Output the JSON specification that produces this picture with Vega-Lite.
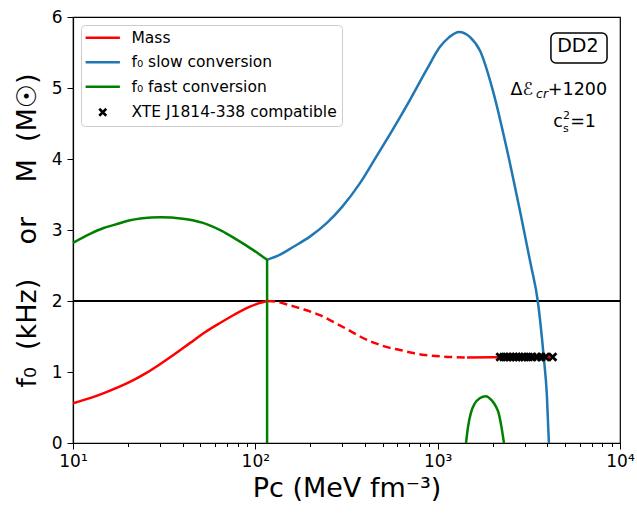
{
  "$schema": "https://vega.github.io/schema/vega-lite/v6.json",
  "width": 547,
  "height": 426,
  "autosize": "none",
  "padding": {"left": 73, "top": 17, "right": 17, "bottom": 72},
  "background": "white",
  "datasets": {
    "curves": [
      {"series": "Mass", "seg": "m1", "i": 1, "P": 10, "v": 0.56},
      {"series": "Mass", "seg": "m1", "i": 2, "P": 12.5, "v": 0.635},
      {"series": "Mass", "seg": "m1", "i": 3, "P": 15, "v": 0.71},
      {"series": "Mass", "seg": "m1", "i": 4, "P": 20.5, "v": 0.86},
      {"series": "Mass", "seg": "m1", "i": 5, "P": 25, "v": 0.98},
      {"series": "Mass", "seg": "m1", "i": 6, "P": 30, "v": 1.11},
      {"series": "Mass", "seg": "m1", "i": 7, "P": 36, "v": 1.25},
      {"series": "Mass", "seg": "m1", "i": 8, "P": 43.9, "v": 1.41},
      {"series": "Mass", "seg": "m1", "i": 9, "P": 53, "v": 1.56},
      {"series": "Mass", "seg": "m1", "i": 10, "P": 64, "v": 1.69},
      {"series": "Mass", "seg": "m1", "i": 11, "P": 77, "v": 1.81},
      {"series": "Mass", "seg": "m1", "i": 12, "P": 93.5, "v": 1.92},
      {"series": "Mass", "seg": "m1", "i": 13, "P": 105, "v": 1.97},
      {"series": "Mass", "seg": "m1", "i": 14, "P": 116, "v": 2.0},
      {"series": "Mass", "seg": "m2", "i": 1, "P": 116, "v": 2.0},
      {"series": "Mass", "seg": "m2", "i": 2, "P": 130, "v": 1.99},
      {"series": "Mass", "seg": "m2", "i": 3, "P": 150, "v": 1.95},
      {"series": "Mass", "seg": "m2", "i": 4, "P": 180, "v": 1.89},
      {"series": "Mass", "seg": "m2", "i": 5, "P": 226, "v": 1.8},
      {"series": "Mass", "seg": "m2", "i": 6, "P": 270, "v": 1.7},
      {"series": "Mass", "seg": "m2", "i": 7, "P": 320, "v": 1.6},
      {"series": "Mass", "seg": "m2", "i": 8, "P": 375, "v": 1.5},
      {"series": "Mass", "seg": "m2", "i": 9, "P": 450, "v": 1.41},
      {"series": "Mass", "seg": "m2", "i": 10, "P": 530, "v": 1.35},
      {"series": "Mass", "seg": "m2", "i": 11, "P": 622, "v": 1.31},
      {"series": "Mass", "seg": "m2", "i": 12, "P": 720, "v": 1.27},
      {"series": "Mass", "seg": "m2", "i": 13, "P": 850, "v": 1.24},
      {"series": "Mass", "seg": "m2", "i": 14, "P": 1030, "v": 1.22},
      {"series": "Mass", "seg": "m2", "i": 15, "P": 1250, "v": 1.21},
      {"series": "Mass", "seg": "m2", "i": 16, "P": 1450, "v": 1.205},
      {"series": "Mass", "seg": "m3", "i": 1, "P": 1450, "v": 1.205},
      {"series": "Mass", "seg": "m3", "i": 2, "P": 2000, "v": 1.207},
      {"series": "Mass", "seg": "m3", "i": 3, "P": 3000, "v": 1.21},
      {"series": "Mass", "seg": "m3", "i": 4, "P": 4140, "v": 1.21},
      {"series": "f₀ slow conversion", "seg": "s", "i": 1, "P": 116, "v": 2.58},
      {"series": "f₀ slow conversion", "seg": "s", "i": 2, "P": 135, "v": 2.645},
      {"series": "f₀ slow conversion", "seg": "s", "i": 3, "P": 161, "v": 2.76},
      {"series": "f₀ slow conversion", "seg": "s", "i": 4, "P": 200, "v": 2.91},
      {"series": "f₀ slow conversion", "seg": "s", "i": 5, "P": 247, "v": 3.1},
      {"series": "f₀ slow conversion", "seg": "s", "i": 6, "P": 300, "v": 3.33},
      {"series": "f₀ slow conversion", "seg": "s", "i": 7, "P": 375, "v": 3.66},
      {"series": "f₀ slow conversion", "seg": "s", "i": 8, "P": 460, "v": 4.03},
      {"series": "f₀ slow conversion", "seg": "s", "i": 9, "P": 569, "v": 4.42},
      {"series": "f₀ slow conversion", "seg": "s", "i": 10, "P": 700, "v": 4.82},
      {"series": "f₀ slow conversion", "seg": "s", "i": 11, "P": 875, "v": 5.27},
      {"series": "f₀ slow conversion", "seg": "s", "i": 12, "P": 1030, "v": 5.58},
      {"series": "f₀ slow conversion", "seg": "s", "i": 13, "P": 1150, "v": 5.71},
      {"series": "f₀ slow conversion", "seg": "s", "i": 14, "P": 1310, "v": 5.79},
      {"series": "f₀ slow conversion", "seg": "s", "i": 15, "P": 1500, "v": 5.72},
      {"series": "f₀ slow conversion", "seg": "s", "i": 16, "P": 1710, "v": 5.52},
      {"series": "f₀ slow conversion", "seg": "s", "i": 17, "P": 2015, "v": 4.95},
      {"series": "f₀ slow conversion", "seg": "s", "i": 18, "P": 2400, "v": 4.13},
      {"series": "f₀ slow conversion", "seg": "s", "i": 19, "P": 2858, "v": 3.21},
      {"series": "f₀ slow conversion", "seg": "s", "i": 20, "P": 3243, "v": 2.51},
      {"series": "f₀ slow conversion", "seg": "s", "i": 21, "P": 3540, "v": 2.0},
      {"series": "f₀ slow conversion", "seg": "s", "i": 22, "P": 3820, "v": 1.2},
      {"series": "f₀ slow conversion", "seg": "s", "i": 23, "P": 3970, "v": 0.68},
      {"series": "f₀ slow conversion", "seg": "s", "i": 24, "P": 4074, "v": 0.0},
      {"series": "f₀ fast conversion", "seg": "g1", "i": 1, "P": 10, "v": 2.82},
      {"series": "f₀ fast conversion", "seg": "g1", "i": 2, "P": 12.5, "v": 2.95},
      {"series": "f₀ fast conversion", "seg": "g1", "i": 3, "P": 14.6, "v": 3.025},
      {"series": "f₀ fast conversion", "seg": "g1", "i": 4, "P": 17, "v": 3.075},
      {"series": "f₀ fast conversion", "seg": "g1", "i": 5, "P": 20, "v": 3.13},
      {"series": "f₀ fast conversion", "seg": "g1", "i": 6, "P": 24, "v": 3.165},
      {"series": "f₀ fast conversion", "seg": "g1", "i": 7, "P": 30, "v": 3.18},
      {"series": "f₀ fast conversion", "seg": "g1", "i": 8, "P": 40, "v": 3.16},
      {"series": "f₀ fast conversion", "seg": "g1", "i": 9, "P": 51.7, "v": 3.10},
      {"series": "f₀ fast conversion", "seg": "g1", "i": 10, "P": 65, "v": 2.99},
      {"series": "f₀ fast conversion", "seg": "g1", "i": 11, "P": 79.5, "v": 2.86},
      {"series": "f₀ fast conversion", "seg": "g1", "i": 12, "P": 97, "v": 2.72},
      {"series": "f₀ fast conversion", "seg": "g1", "i": 13, "P": 116, "v": 2.58},
      {"series": "f₀ fast conversion", "seg": "gv", "i": 1, "P": 116, "v": 2.58},
      {"series": "f₀ fast conversion", "seg": "gv", "i": 2, "P": 116, "v": 0},
      {"series": "f₀ fast conversion", "seg": "g2", "i": 1, "P": 1430, "v": 0},
      {"series": "f₀ fast conversion", "seg": "g2", "i": 2, "P": 1470, "v": 0.24},
      {"series": "f₀ fast conversion", "seg": "g2", "i": 3, "P": 1520, "v": 0.42},
      {"series": "f₀ fast conversion", "seg": "g2", "i": 4, "P": 1600, "v": 0.56},
      {"series": "f₀ fast conversion", "seg": "g2", "i": 5, "P": 1700, "v": 0.63},
      {"series": "f₀ fast conversion", "seg": "g2", "i": 6, "P": 1840, "v": 0.66},
      {"series": "f₀ fast conversion", "seg": "g2", "i": 7, "P": 1980, "v": 0.6},
      {"series": "f₀ fast conversion", "seg": "g2", "i": 8, "P": 2080, "v": 0.52},
      {"series": "f₀ fast conversion", "seg": "g2", "i": 9, "P": 2160, "v": 0.42},
      {"series": "f₀ fast conversion", "seg": "g2", "i": 10, "P": 2240, "v": 0.22},
      {"series": "f₀ fast conversion", "seg": "g2", "i": 11, "P": 2310, "v": 0}
    ],
    "xte": [
      {"series": "XTE J1814-338 compatible", "P": 2200, "v": 1.21},
      {"series": "XTE J1814-338 compatible", "P": 2300, "v": 1.21},
      {"series": "XTE J1814-338 compatible", "P": 2400, "v": 1.21},
      {"series": "XTE J1814-338 compatible", "P": 2500, "v": 1.21},
      {"series": "XTE J1814-338 compatible", "P": 2600, "v": 1.21},
      {"series": "XTE J1814-338 compatible", "P": 2700, "v": 1.21},
      {"series": "XTE J1814-338 compatible", "P": 2800, "v": 1.21},
      {"series": "XTE J1814-338 compatible", "P": 2900, "v": 1.21},
      {"series": "XTE J1814-338 compatible", "P": 3000, "v": 1.21},
      {"series": "XTE J1814-338 compatible", "P": 3150, "v": 1.21},
      {"series": "XTE J1814-338 compatible", "P": 3300, "v": 1.21},
      {"series": "XTE J1814-338 compatible", "P": 3500, "v": 1.21},
      {"series": "XTE J1814-338 compatible", "P": 3700, "v": 1.21},
      {"series": "XTE J1814-338 compatible", "P": 3900, "v": 1.21},
      {"series": "XTE J1814-338 compatible", "P": 4270, "v": 1.21}
    ]
  },
  "encoding": {
    "x": {
      "field": "P",
      "type": "quantitative",
      "title": "Pᴄ (MeV fm⁻³)",
      "scale": {"type": "log", "domain": [10, 10000], "nice": false},
      "axis": {
        "values": [10, 20, 30, 40, 50, 60, 70, 80, 90, 100, 200, 300, 400, 500, 600, 700, 800, 900, 1000, 2000, 3000, 4000, 5000, 6000, 7000, 8000, 9000, 10000],
        "labelExpr": "datum.value == 10 ? '10¹' : datum.value == 100 ? '10²' : datum.value == 1000 ? '10³' : datum.value == 10000 ? '10⁴' : ''",
        "labelOverlap": false,
        "labelFlush": false,
        "tickSize": {"condition": {"test": "indexof([10,100,1000,10000], datum.value) >= 0", "value": 6}, "value": 3.5},
        "labelPadding": 4,
        "titlePadding": 6
      }
    },
    "y": {
      "field": "v",
      "type": "quantitative",
      "title": "f₀\u00a0\u00a0(kHz)\u00a0\u00a0\u00a0\u00a0or\u00a0\u00a0\u00a0\u00a0M\u00a0\u00a0(M☉)",
      "scale": {"domain": [0, 6], "nice": false, "zero": false},
      "axis": {"values": [0, 1, 2, 3, 4, 5, 6], "tickSize": 6, "labelPadding": 5, "titlePadding": 10}
    }
  },
  "layer": [
    {
      "data": {"values": [{"v": 2}]},
      "mark": {"type": "rule", "color": "black", "strokeWidth": 2.2},
      "encoding": {"x": null}
    },
    {
      "data": {"name": "curves"},
      "transform": [{"filter": "datum.seg !== 'm2' && datum.seg !== 'gv'"}],
      "mark": {"type": "line", "strokeWidth": 2.5, "interpolate": "monotone"},
      "encoding": {
        "color": {
          "field": "series",
          "type": "nominal",
          "scale": {"domain": ["Mass", "f₀ slow conversion", "f₀ fast conversion", "XTE J1814-338 compatible"], "range": ["#ff0000", "#1f77b4", "#008000", "#000000"]},
          "legend": {"title": null}
        },
        "detail": {"field": "seg"},
        "order": {"field": "i", "type": "quantitative"}
      }
    },
    {
      "data": {"name": "curves"},
      "transform": [{"filter": "datum.seg === 'gv'"}],
      "mark": {"type": "line", "strokeWidth": 2.5},
      "encoding": {
        "color": {"field": "series", "type": "nominal", "legend": {"title": null}},
        "detail": {"field": "seg"},
        "order": {"field": "i", "type": "quantitative"}
      }
    },
    {
      "data": {"name": "curves"},
      "transform": [{"filter": "datum.seg === 'm2'"}],
      "mark": {"type": "line", "strokeWidth": 2.5, "strokeDash": [8, 4.5], "interpolate": "monotone"},
      "encoding": {
        "color": {"field": "series", "type": "nominal", "legend": {"title": null}},
        "detail": {"field": "seg"},
        "order": {"field": "i", "type": "quantitative"}
      }
    },
    {
      "data": {"name": "xte"},
      "mark": {"type": "point", "filled": false, "strokeWidth": 2.8, "size": 56, "opacity": 1},
      "encoding": {
        "color": {"field": "series", "type": "nominal", "legend": {"title": null}},
        "shape": {
          "field": "series",
          "type": "nominal",
          "scale": {"domain": ["Mass", "f₀ slow conversion", "f₀ fast conversion", "XTE J1814-338 compatible"], "range": ["M-4.9,0H4.9", "M-4.9,0H4.9", "M-4.9,0H4.9", "M-1,-1L1,1M-1,1L1,-1"]},
          "legend": {"title": null}
        }
      }
    },
    {
      "data": {"values": [{"P": 4180, "P2": 8490, "v": 5.352, "v2": 5.775}]},
      "mark": {"type": "rect", "fill": "white", "stroke": "black", "strokeWidth": 1.5, "cornerRadius": 5},
      "encoding": {"x2": {"field": "P2"}, "y2": {"field": "v2"}}
    },
    {
      "data": {"values": [{"P": 5875, "v": 5.585, "t": "DD2"}]},
      "mark": {"type": "text", "font": "DejaVu Sans", "fontSize": 19, "align": "center", "baseline": "middle", "color": "black"},
      "encoding": {"text": {"field": "t"}}
    },
    {
      "data": {"values": [{"P": 8490, "v": 4.901, "t": "+1200"}]},
      "mark": {"type": "text", "font": "DejaVu Sans", "fontSize": 17.5, "align": "right", "baseline": "alphabetic", "color": "black"},
      "encoding": {"text": {"field": "t"}}
    },
    {
      "data": {"values": [{"P": 8490, "v": 4.901, "t": "cr"}]},
      "mark": {"type": "text", "font": "DejaVu Sans", "fontSize": 12.5, "fontStyle": "italic", "align": "right", "baseline": "alphabetic", "dx": -59, "dy": 3, "color": "black"},
      "encoding": {"text": {"field": "t"}}
    },
    {
      "data": {"values": [{"P": 8490, "v": 4.901, "t": "Δℰ"}]},
      "mark": {"type": "text", "font": "DejaVu Sans", "fontSize": 17.5, "align": "right", "baseline": "alphabetic", "dx": -74, "color": "black"},
      "encoding": {"text": {"field": "t"}}
    },
    {
      "data": {"values": [{"P": 7380, "v": 4.45, "t": "=1"}]},
      "mark": {"type": "text", "font": "DejaVu Sans", "fontSize": 17.5, "align": "right", "baseline": "alphabetic", "color": "black"},
      "encoding": {"text": {"field": "t"}}
    },
    {
      "data": {"values": [{"P": 7380, "v": 4.45, "t": "2"}]},
      "mark": {"type": "text", "font": "DejaVu Sans", "fontSize": 11, "align": "left", "baseline": "alphabetic", "dx": -33, "dy": -8, "color": "black"},
      "encoding": {"text": {"field": "t"}}
    },
    {
      "data": {"values": [{"P": 7380, "v": 4.45, "t": "s"}]},
      "mark": {"type": "text", "font": "DejaVu Sans", "fontSize": 11, "align": "left", "baseline": "alphabetic", "dx": -33, "dy": 4.5, "color": "black"},
      "encoding": {"text": {"field": "t"}}
    },
    {
      "data": {"values": [{"P": 7380, "v": 4.45, "t": "c"}]},
      "mark": {"type": "text", "font": "DejaVu Sans", "fontSize": 17.5, "align": "right", "baseline": "alphabetic", "dx": -33, "color": "black"},
      "encoding": {"text": {"field": "t"}}
    }
  ],
  "config": {
    "view": {"stroke": "black", "strokeWidth": 1.2},
    "font": "DejaVu Sans",
    "axis": {
      "grid": false,
      "labelFont": "DejaVu Sans",
      "labelFontSize": 17,
      "labelColor": "black",
      "titleFont": "DejaVu Sans",
      "titleFontSize": 27,
      "titleFontWeight": "normal",
      "titleColor": "black",
      "tickColor": "black",
      "tickWidth": 1,
      "domainColor": "black",
      "domainWidth": 1.2
    },
    "legend": {
      "orient": "top-left",
      "offset": 8,
      "padding": 5,
      "strokeColor": "#cccccc",
      "fillColor": "white",
      "cornerRadius": 4,
      "labelFont": "DejaVu Sans",
      "labelFontSize": 15.5,
      "labelColor": "black",
      "labelLimit": 400,
      "symbolSize": 49,
      "symbolOffset": 9,
      "symbolStrokeWidth": 2.5,
      "symbolDash": [],
      "labelOffset": 21,
      "rowPadding": 7.5
    }
  }
}
